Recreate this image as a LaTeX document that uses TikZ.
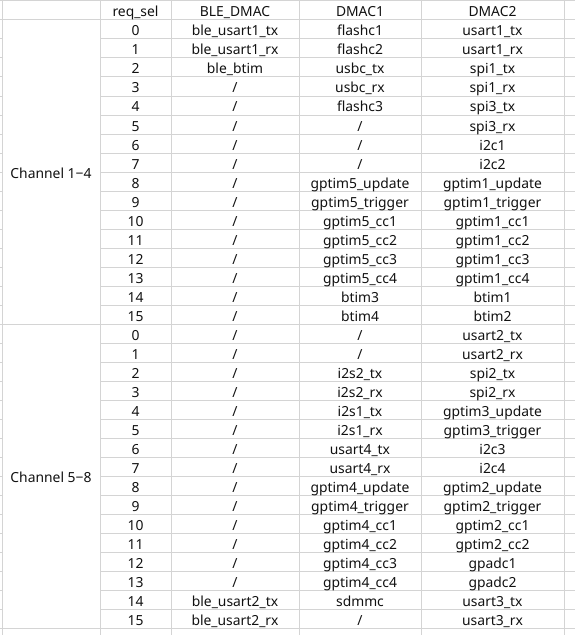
\documentclass[tikz,border=0pt]{standalone}
\usepackage{fontspec}
\setmainfont{Noto Sans}
\definecolor{gridgray}{HTML}{D4D4D4}
\definecolor{celltext}{HTML}{111111}
\newcommand{\nosig}{/}
\tikzset{
    cell/.style = {inner sep=0pt, anchor=base, text=celltext, font=\fontsize{10.4}{12}\selectfont},
    chan/.style = {cell},
    gridline/.style = {draw=gridgray, line width=0.75pt},
}

\begin{document}
\begin{tikzpicture}[x=0.75pt, y=-0.75pt]
  \useasboundingbox (0,0) rectangle (575,635);
  % grid
  \foreach \k in {0,...,33} {
    \draw[gridline] (0,{1+19*\k}) -- (2,{1+19*\k});
    \draw[gridline] (100,{1+19*\k}) -- (575,{1+19*\k});
  }
  \foreach \k in {0,1,17,33}
    \draw[gridline] (0,{1+19*\k}) -- (575,{1+19*\k});
  \foreach \xx in {2,100,171,299,421,564}
    \draw[gridline] (\xx,0) -- (\xx,635);

  % header
  \node[cell] (hsel)  at (135.5,16.5) {req\_sel};
  \node[cell] (hble)  at (235,16.5)   {BLE\_DMAC};
  \node[cell] (hdma1) at (360,16.5)   {DMAC1};
  \node[cell] (hdma2) at (492.5,16.5) {DMAC2};

  % channel groups
  \node[chan] (ch14) at (51,178) {Channel 1−4};
  \node[chan] (ch58) at (51,482) {Channel 5−8};

  % rows
  \foreach \n/\a/\b/\c [count=\i from 0] in {
      0/ble\_usart1\_tx/flashc1/usart1\_tx,
      1/ble\_usart1\_rx/flashc2/usart1\_rx,
      2/ble\_btim/usbc\_tx/spi1\_tx,
      3/\nosig/usbc\_rx/spi1\_rx,
      4/\nosig/flashc3/spi3\_tx,
      5/\nosig/\nosig/spi3\_rx,
      6/\nosig/\nosig/i2c1,
      7/\nosig/\nosig/i2c2,
      8/\nosig/gptim5\_update/gptim1\_update,
      9/\nosig/gptim5\_trigger/gptim1\_trigger,
      10/\nosig/gptim5\_cc1/gptim1\_cc1,
      11/\nosig/gptim5\_cc2/gptim1\_cc2,
      12/\nosig/gptim5\_cc3/gptim1\_cc3,
      13/\nosig/gptim5\_cc4/gptim1\_cc4,
      14/\nosig/btim3/btim1,
      15/\nosig/btim4/btim2,
      0/\nosig/\nosig/usart2\_tx,
      1/\nosig/\nosig/usart2\_rx,
      2/\nosig/i2s2\_tx/spi2\_tx,
      3/\nosig/i2s2\_rx/spi2\_rx,
      4/\nosig/i2s1\_tx/gptim3\_update,
      5/\nosig/i2s1\_rx/gptim3\_trigger,
      6/\nosig/usart4\_tx/i2c3,
      7/\nosig/usart4\_rx/i2c4,
      8/\nosig/gptim4\_update/gptim2\_update,
      9/\nosig/gptim4\_trigger/gptim2\_trigger,
      10/\nosig/gptim4\_cc1/gptim2\_cc1,
      11/\nosig/gptim4\_cc2/gptim2\_cc2,
      12/\nosig/gptim4\_cc3/gpadc1,
      13/\nosig/gptim4\_cc4/gpadc2,
      14/ble\_usart2\_tx/sdmmc/usart3\_tx,
      15/ble\_usart2\_rx/\nosig/usart3\_rx} {
    \node[cell] (sel\i)  at (135.5,{36+19*\i}) {\n};
    \node[cell] (ble\i)  at (235,{36+19*\i})   {\a};
    \node[cell] (dma1\i) at (360,{36+19*\i})   {\b};
    \node[cell] (dma2\i) at (492.5,{36+19*\i}) {\c};
  }
\end{tikzpicture}
\end{document}
